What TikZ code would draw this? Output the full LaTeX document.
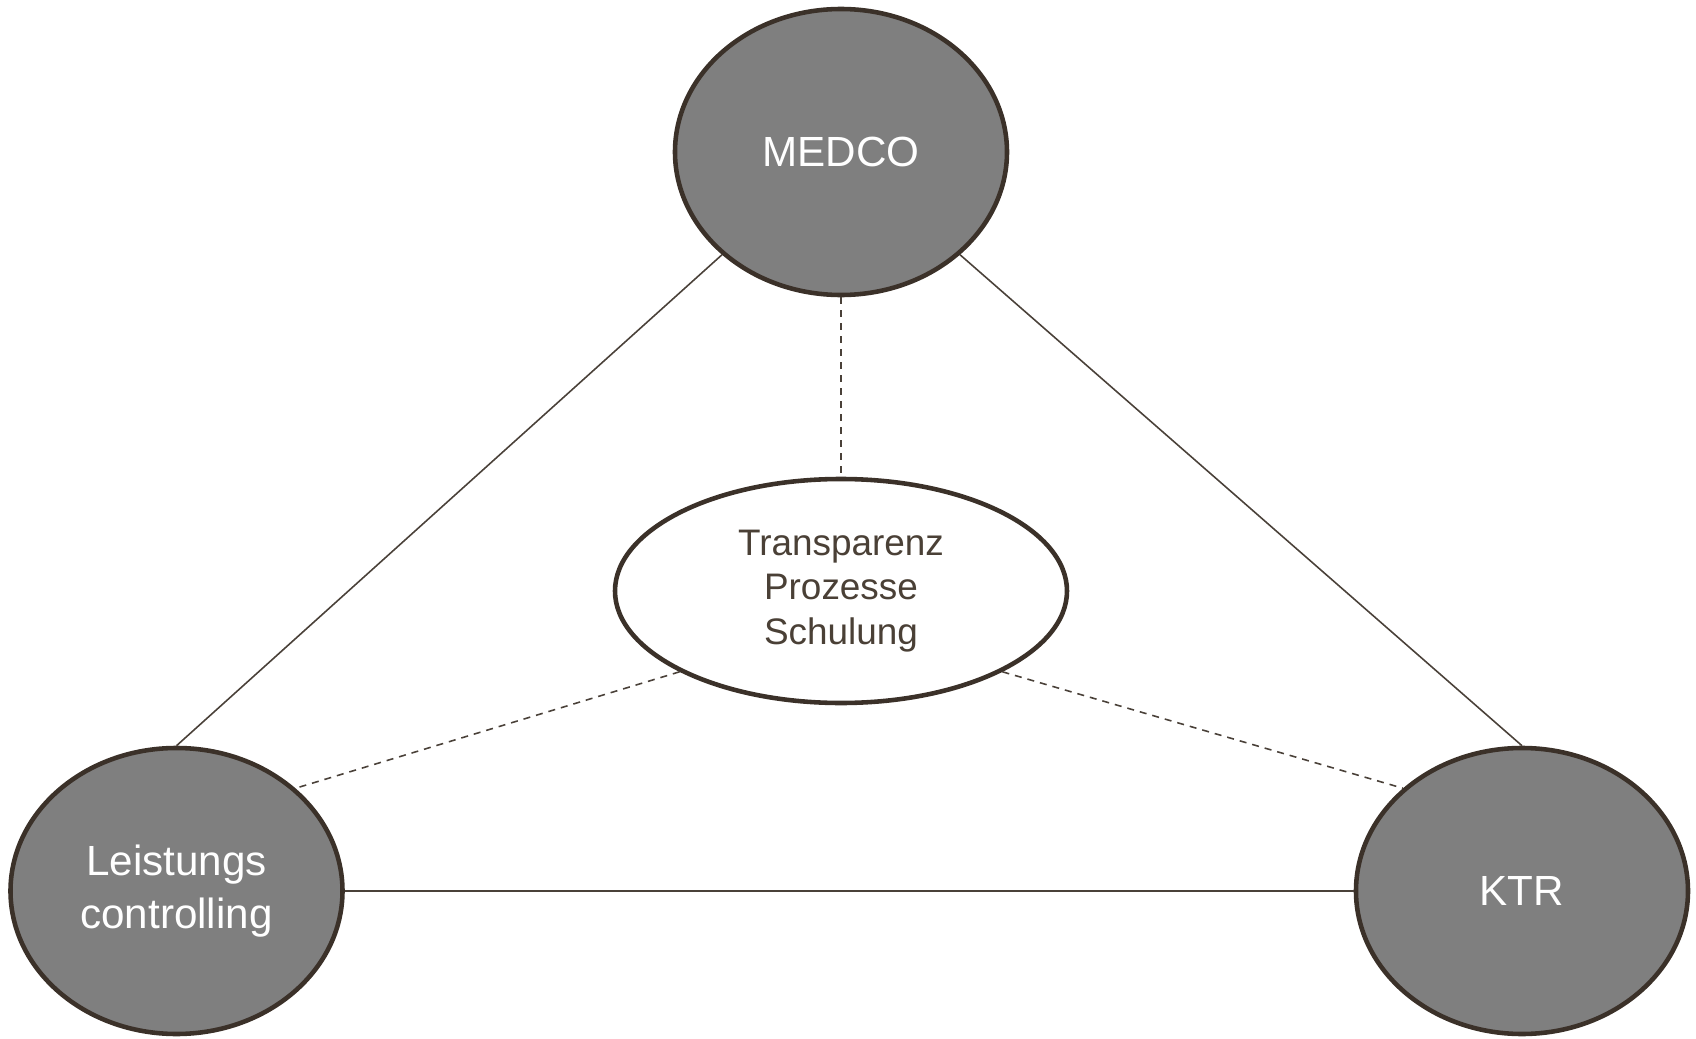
\documentclass[tikz,border=0pt]{standalone}
\usepackage{fontspec}
\setmainfont{Liberation Sans}
\usepackage{tikz}
\usetikzlibrary{shapes.geometric}
\definecolor{rimbrown}{HTML}{3B3129}
\definecolor{linebrown}{HTML}{4A4139}
\definecolor{discgray}{HTML}{7F7F7F}
\definecolor{textbrown}{HTML}{4A4036}

\begin{document}
\begin{tikzpicture}[
		disc/.style={ellipse, draw=rimbrown, line width=1.3pt, fill=discgray, text=white,
			minimum width=3.32cm, minimum height=2.86cm, align=center,
			font=\fontsize{12}{15.2}\selectfont},
		hub/.style={ellipse, draw=rimbrown, line width=1.3pt, fill=white, text=textbrown,
			minimum width=4.52cm, minimum height=2.24cm, align=center,
			font=\fontsize{10.5}{12.6}\selectfont},
		link/.style={draw=linebrown, line width=0.45pt},
		dashlink/.style={link, dash pattern=on 2pt off 1.7pt}]
			\useasboundingbox (0,0) rectangle (16.96,10.38);

			\node[disc] (medco) at (8.41,8.86) {MEDCO};
			\node[disc] (leist) at (1.765,1.47) {Leistungs\\controlling};
			\node[disc] (ktr) at (15.22,1.47) {KTR};
			\node[hub] (hub) at (8.41,4.47) {Transparenz\\Prozesse\\Schulung};

			\draw[link] (medco.south west) -- (leist.north);
			\draw[link] (medco.south east) -- (ktr.north);
			\draw[link] (leist) -- (ktr);

			\draw[dashlink] (medco) -- (hub);
			\draw[dashlink] (hub.south west) -- (leist.north east);
			\draw[dashlink] (hub.south east) -- (ktr.north west);
		\end{tikzpicture}
\end{document}
